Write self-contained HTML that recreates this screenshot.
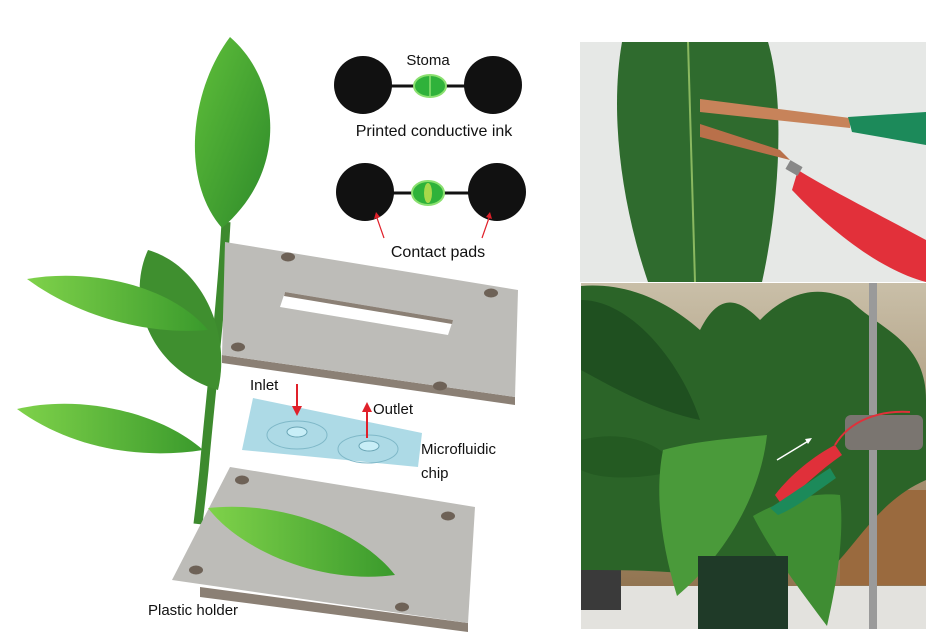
<!DOCTYPE html>
<html><head><style>
html,body{margin:0;padding:0;background:#fff;width:948px;height:632px;overflow:hidden}
svg{display:block}
text{font-family:"Liberation Sans",sans-serif;fill:#111}
</style></head><body>
<svg width="948" height="632" viewBox="0 0 948 632" xmlns="http://www.w3.org/2000/svg">
<defs>
<linearGradient id="lf" x1="0" y1="0" x2="1" y2="1"><stop offset="0" stop-color="#5fbf3a"/><stop offset="1" stop-color="#2e8a2a"/></linearGradient>
<linearGradient id="lf2" x1="0" y1="0" x2="1" y2="0"><stop offset="0" stop-color="#7fd24a"/><stop offset="1" stop-color="#3a9a2c"/></linearGradient>
<linearGradient id="bg" x1="0" y1="0" x2="0" y2="1"><stop offset="0" stop-color="#c9bfa8"/><stop offset="1" stop-color="#8a6a45"/></linearGradient>
</defs>
<path d="M226,222 C222,300 210,400 204,470 C201,500 199,515 198,524" stroke="#3d8a2e" stroke-width="9" fill="none"/>
<path d="M230,37 C280,80 290,170 222,228 C180,180 190,90 230,37 Z" fill="url(#lf)"/>
<path d="M218,390 C150,370 125,300 148,250 C200,265 232,330 218,390 Z" fill="#3f8f2f"/>
<path d="M27,279 C90,268 170,285 208,330 C150,335 80,318 27,279 Z" fill="url(#lf2)"/>
<path d="M17,409 C80,394 160,412 203,450 C140,460 70,448 17,409 Z" fill="url(#lf2)"/>
<polygon points="222,355 515,397 515,405 222,363" fill="#8b8075"/>
<polygon points="225,242 518,290 515,397 222,355" fill="#bdbcb8"/>
<polygon points="285,292 453,320 448,335 280,307" fill="#fff"/>
<polygon points="285,292 453,320 452,324 284,296" fill="#8b8075"/>
<ellipse cx="288" cy="257" rx="7" ry="4.5" fill="#6e6257"/>
<ellipse cx="491" cy="293" rx="7" ry="4.5" fill="#6e6257"/>
<ellipse cx="238" cy="347" rx="7" ry="4.5" fill="#6e6257"/>
<ellipse cx="440" cy="386" rx="7" ry="4.5" fill="#6e6257"/>
<polygon points="253,398 422,433 418,467 242,450" fill="#9fd3e2" opacity="0.85"/>
<ellipse cx="297" cy="435" rx="30" ry="14" fill="none" stroke="#7fb8c8"/>
<ellipse cx="368" cy="449" rx="30" ry="14" fill="none" stroke="#7fb8c8"/>
<ellipse cx="297" cy="432" rx="10" ry="5" fill="#c8eef7" stroke="#6aa5b5"/>
<ellipse cx="369" cy="446" rx="10" ry="5" fill="#c8eef7" stroke="#6aa5b5"/>
<polygon points="200,587 468,623 468,632 200,597" fill="#8b8075"/>
<polygon points="230,467 475,507 468,623 172,580" fill="#bdbcb8"/>
<ellipse cx="242" cy="480" rx="7" ry="4.5" fill="#6e6257"/>
<ellipse cx="448" cy="516" rx="7" ry="4.5" fill="#6e6257"/>
<ellipse cx="196" cy="570" rx="7" ry="4.5" fill="#6e6257"/>
<ellipse cx="402" cy="607" rx="7" ry="4.5" fill="#6e6257"/>
<path d="M208,508 C280,500 360,530 395,575 C320,585 240,550 208,508 Z" fill="url(#lf2)"/>
<line x1="297" y1="384" x2="297" y2="410" stroke="#e0202a" stroke-width="2"/>
<polygon points="292,406 302,406 297,416" fill="#e0202a"/>
<line x1="367" y1="438" x2="367" y2="410" stroke="#e0202a" stroke-width="2"/>
<polygon points="362,412 372,412 367,402" fill="#e0202a"/>
<text x="250" y="390" font-size="15">Inlet</text>
<text x="373" y="414" font-size="15">Outlet</text>
<text x="421" y="454" font-size="15">Microfluidic</text>
<text x="421" y="478" font-size="15">chip</text>
<text x="148" y="615" font-size="15">Plastic holder</text>
<line x1="363" y1="86" x2="493" y2="86" stroke="#111" stroke-width="3"/>
<circle cx="363" cy="85" r="29" fill="#111"/>
<circle cx="493" cy="85" r="29" fill="#111"/>
<ellipse cx="430" cy="86" rx="16" ry="11" fill="#2fb23a" stroke="#8be070" stroke-width="2"/>
<line x1="430" y1="76" x2="430" y2="96" stroke="#8be070" stroke-width="1.5"/>
<text x="428" y="65" font-size="15" text-anchor="middle">Stoma</text>
<text x="434" y="136" font-size="16" text-anchor="middle">Printed conductive ink</text>
<line x1="365" y1="193" x2="497" y2="193" stroke="#111" stroke-width="3"/>
<circle cx="365" cy="192" r="29" fill="#111"/>
<circle cx="497" cy="192" r="29" fill="#111"/>
<ellipse cx="428" cy="193" rx="16" ry="12" fill="#2fb23a" stroke="#8be070" stroke-width="2"/>
<ellipse cx="428" cy="193" rx="4" ry="10" fill="#a8d84a"/>
<line x1="384" y1="238" x2="377" y2="218" stroke="#e0202a" stroke-width="1.2"/>
<polygon points="374,219 380,217 376,212" fill="#e0202a"/>
<line x1="482" y1="238" x2="489" y2="218" stroke="#e0202a" stroke-width="1.2"/>
<polygon points="486,217 492,219 490,212" fill="#e0202a"/>
<text x="438" y="257" font-size="16" text-anchor="middle">Contact pads</text>
<!-- top photo -->
<rect x="580" y="42" width="346" height="240" fill="#e6e8e6"/>
<path d="M622,42 L768,42 C785,100 780,200 762,282 L648,282 C620,200 610,110 622,42 Z" fill="#2f6b2e"/>
<line x1="688" y1="42" x2="695" y2="282" stroke="#8ab860" stroke-width="2"/>
<polygon points="700,99 850,118 850,128 700,112" fill="#c7835a"/>
<polygon points="700,124 780,150 790,160 700,137" fill="#b9704a"/>
<path d="M848,117 L926,112 L926,145 L852,132 Z" fill="#1c8a5a"/>
<path d="M798,170 C830,190 880,215 926,240 L926,282 C880,270 830,230 792,190 Z" fill="#e2303a"/>
<rect x="787" y="163" width="14" height="10" fill="#888" transform="rotate(30 794 168)"/>
<!-- bottom photo -->
<rect x="581" y="283" width="345" height="346" fill="url(#bg)"/>
<rect x="840" y="490" width="86" height="95" fill="#9a6a3e"/>
<rect x="581" y="586" width="345" height="43" fill="#e3e2de"/>
<rect x="581" y="560" width="40" height="50" fill="#3a3a3a"/>
<path d="M581,286 C620,283 660,295 700,330 C720,290 740,300 760,320 C790,290 820,285 850,300 C880,330 926,340 926,400 L926,480 C880,500 860,540 830,570 L700,575 C660,570 620,570 581,570 Z" fill="#2b6428"/>
<path d="M581,300 C630,300 680,360 700,420 C650,410 600,380 581,370 Z" fill="#1f5020"/>
<path d="M581,440 C620,430 660,440 680,470 C640,480 600,480 581,470 Z" fill="#245a22"/>
<path d="M663,450 C700,440 740,438 767,435 C760,500 720,560 677,596 C660,540 655,490 663,450 Z" fill="#4a9a3a"/>
<path d="M753,516 C780,500 815,492 840,495 C845,540 835,590 827,626 C800,590 770,550 753,516 Z" fill="#3f8d33"/>
<rect x="698" y="556" width="90" height="73" fill="#1f3a28"/>
<rect x="869" y="283" width="8" height="346" fill="#9a9a9a"/>
<rect x="845" y="415" width="78" height="35" rx="6" fill="#7a7570"/>
<path d="M775,495 C790,475 815,455 835,445 L842,455 C820,470 800,490 782,505 Z" fill="#e0303a"/>
<path d="M770,508 C790,495 815,478 830,468 L836,478 C812,495 795,508 778,515 Z" fill="#1c8a5a"/>
<path d="M835,445 C850,420 880,410 910,412" stroke="#e0303a" stroke-width="2" fill="none"/>
<line x1="777" y1="460" x2="810" y2="440" stroke="#fff" stroke-width="1.5"/>
<polygon points="812,438 805,439 808,444" fill="#fff"/>
</svg>
</body></html>
